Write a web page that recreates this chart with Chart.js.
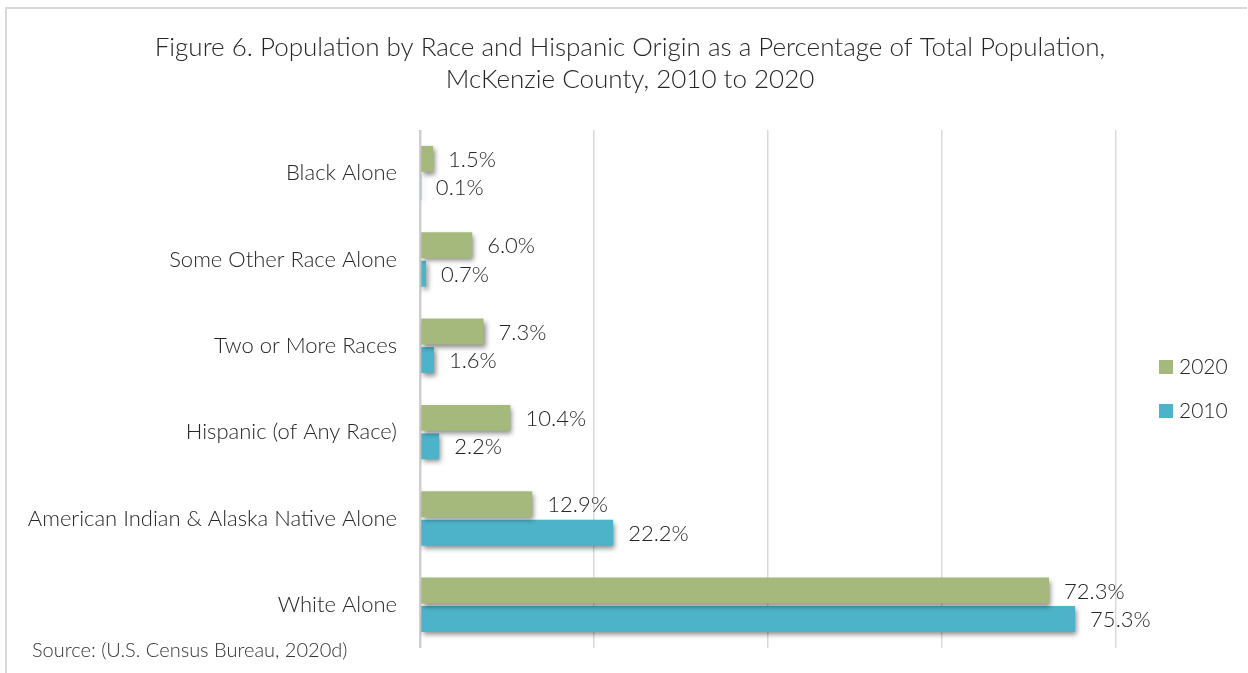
<!DOCTYPE html>
<html>
<head>
<meta charset="utf-8">
<script src="https://cdn.jsdelivr.net/npm/chart.js@4.4.1/dist/chart.umd.min.js"></script>
<style>
  html, body { margin: 0; padding: 0; background: #ffffff; }
  #wrap { width: 1248px; height: 673px; position: relative; }
</style>
</head>
<body>
<div id="wrap"><canvas id="c" width="1248" height="673"></canvas></div>
<script>
const categories = [
  "Black Alone",
  "Some Other Race Alone",
  "Two or More Races",
  "Hispanic (of Any Race)",
  "American Indian & Alaska Native Alone",
  "White Alone"
];
const seriesNames = ["2020", "2010"];
const values2020 = [1.5, 6.0, 7.3, 10.4, 12.9, 72.3];
const values2010 = [0.1, 0.7, 1.6, 2.2, 22.2, 75.3];
const gridTicks = [0, 20, 40, 60, 80];
const titleLines = [
  "Figure 6. Population by Race and Hispanic Origin as a Percentage of Total Population,",
  "McKenzie County, 2010 to 2020"
];
const sourceText = "Source: (U.S. Census Bureau, 2020d)";

const GREEN = "#A6B97D";
const BLUE = "#4DB3C8";
const TEXT = "#262626";
const FONT = "Lato, 'Open Sans', sans-serif";

const framePlugin = {
  id: "frame",
  beforeDraw(chart) {
    const ctx = chart.ctx;
    ctx.save();
    ctx.fillStyle = "#ffffff";
    ctx.fillRect(0, 0, chart.width, chart.height);
    ctx.strokeStyle = "#d9d9d9";
    ctx.lineWidth = 2;
    ctx.beginPath();
    ctx.moveTo(6, chart.height);
    ctx.lineTo(6, 8);
    ctx.lineTo(chart.width - 1, 8);
    ctx.stroke();
    ctx.restore();
  }
};

const shadowPlugin = {
  id: "barShadow",
  beforeDatasetsDraw(chart) {
    const ctx = chart.ctx;
    ctx.save();
    ctx.shadowColor = "rgba(0,0,0,0.45)";
    ctx.shadowBlur = 5;
    ctx.shadowOffsetX = 2;
    ctx.shadowOffsetY = 3;
  },
  afterDatasetsDraw(chart) {
    chart.ctx.restore();
  }
};

const labelsPlugin = {
  id: "valueLabels",
  afterDraw(chart) {
    const ctx = chart.ctx;
    ctx.save();
    ctx.font = "300 22px " + FONT;
    ctx.fillStyle = TEXT;
    ctx.textAlign = "left";
    ctx.textBaseline = "middle";
    chart.data.datasets.forEach((ds, di) => {
      const meta = chart.getDatasetMeta(di);
      meta.data.forEach((el, i) => {
        ctx.fillText(ds.data[i].toFixed(1) + "%", el.x + 15, el.y + 1);
      });
    });
    // legend (custom, right side)
    const items = chart.data.datasets.map(d => ({ text: d.label, color: d.backgroundColor }));
    const lx = 1159, ly0 = 367, step = 44;
    ctx.font = "300 21px " + FONT;
    items.forEach((it, k) => {
      const y = ly0 + k * step;
      ctx.fillStyle = it.color;
      ctx.fillRect(lx, y - 7, 14, 14);
      ctx.fillStyle = TEXT;
      ctx.fillText(it.text, lx + 20, y);
    });
    // source
    ctx.font = "300 20px " + FONT;
    ctx.fillStyle = "#333333";
    ctx.fillText(sourceText, 32, 651);
    ctx.restore();
  }
};

const plotLeft = 420, plotRight80 = 1116, canvasRight = 1248;
const xMax = 80 * (canvasRight - plotLeft) / (plotRight80 - plotLeft);

new Chart(document.getElementById("c"), {
  type: "bar",
  data: {
    labels: categories,
    datasets: [
      { label: seriesNames[0], data: values2020, backgroundColor: GREEN },
      { label: seriesNames[1], data: values2010, backgroundColor: BLUE }
    ]
  },
  options: {
    indexAxis: "y",
    responsive: false,
    animation: false,
    devicePixelRatio: 1,
    layout: { padding: { left: 12, right: 0, top: 0, bottom: 25 } },
    datasets: { bar: { categoryPercentage: 0.66, barPercentage: 0.91 } },
    plugins: {
      legend: { display: false },
      tooltip: { enabled: false },
      title: {
        display: true,
        text: titleLines,
        color: TEXT,
        font: { family: FONT, size: 26, weight: 300, lineHeight: 1.23 },
        padding: { top: 32, bottom: 34 }
      }
    },
    scales: {
      x: {
        min: 0,
        max: xMax,
        afterBuildTicks(scale) { scale.ticks = gridTicks.map(v => ({ value: v })); },
        ticks: { display: false },
        border: { display: false },
        grid: {
          drawTicks: false,
          color: (c) => c.tick && c.tick.value === 0 ? "#cfcfcf" : "#d9d9d9",
          lineWidth: (c) => c.tick && c.tick.value === 0 ? 2.5 : 1.5
        }
      },
      y: {
        afterFit(scale) {
          scale.width = plotLeft - 12;
          scale.paddingTop = 0;
          scale.paddingBottom = 0;
        },
        grid: { display: false, drawTicks: false },
        border: { display: false },
        ticks: { color: TEXT, padding: 23, font: { family: FONT, size: 22, weight: 300 } }
      }
    }
  },
  plugins: [framePlugin, shadowPlugin, labelsPlugin]
});
</script>
</body>
</html>
